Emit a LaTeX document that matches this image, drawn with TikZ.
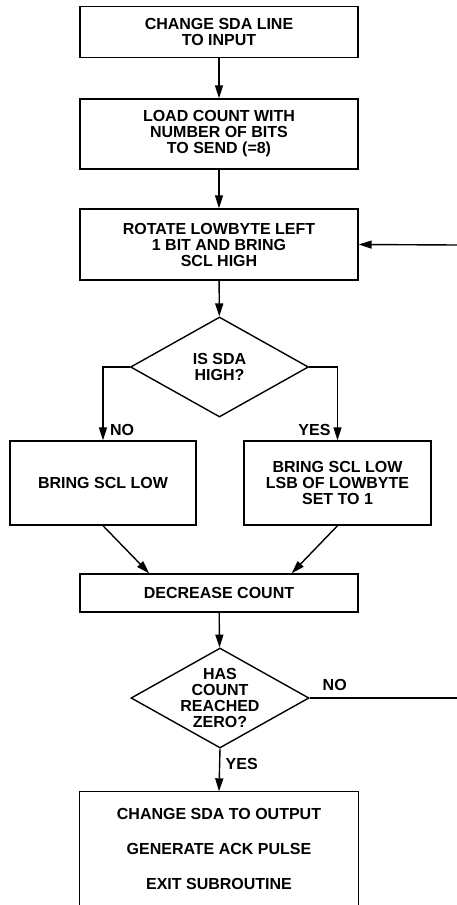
\documentclass[tikz,border=0pt]{standalone}
\usepackage{fontspec}
\setmainfont{Liberation Sans}
\usetikzlibrary{shapes.geometric,arrows.meta,calc}
\begin{document}
\begin{tikzpicture}[x=1pt,y=-1pt,line width=1.4pt,
	every node/.style={font=\bfseries\fontsize{16}{16}\selectfont},
	box/.style={draw,rectangle,align=center,minimum width=278pt,inner sep=0pt},
	dia/.style={draw,diamond,align=center,aspect=1.78,minimum width=178pt,minimum height=100pt,inner sep=-6pt},
	arr/.style={-{Triangle[length=13pt,width=8pt]}}]
	\useasboundingbox (0,0) rectangle (457,905);
	\node[box, minimum height=51pt] (chg) at (219, 32) {CHANGE SDA LINE\\TO INPUT};
	\node[box, minimum height=70pt] (load) at (219, 134) {LOAD COUNT WITH\\NUMBER OF BITS\\TO SEND (=8)};
	\node[box, minimum height=71pt] (rot) at (219, 244.5) {ROTATE LOWBYTE LEFT\\1 BIT AND BRING\\SCL HIGH};
	\node[dia] (sda) at (219.5, 367) {IS SDA\\HIGH?};
	\node[box, minimum width=186pt, minimum height=84pt] (low) at (103, 483) {BRING SCL LOW};
	\node[box, minimum width=187pt, minimum height=84pt] (lsb) at (337.5, 483) {BRING SCL LOW\\LSB OF LOWBYTE\\SET TO 1};
	\node[box, minimum height=38pt] (dec) at (219, 593) {DECREASE COUNT};
	\node[dia] (zero) at (220, 698) {HAS\\COUNT\\REACHED\\ZERO?};
	\node[minimum width=278pt, minimum height=113pt, align=center] (done) at (219, 848.5) {CHANGE SDA TO OUTPUT\\[19pt]GENERATE ACK PULSE\\[19pt]EXIT SUBROUTINE};
	\coordinate (back) at (457, 245);
	\coordinate (loop) at (457, 698);
	\draw (done.south west) -- (done.north west) -- (done.north east) -- (done.south east);
	\draw[arr] (chg) -- (load);
	\draw[arr] (load) -- (rot);
	\draw[arr] (back) -- (rot.east);
	\draw[arr] (rot) -- (sda);
	\draw[arr] (sda.west) -| (low.north) node [pos=0.93, right=3pt] {NO};
	\draw[arr] (sda.east) -| (lsb.north) node [pos=0.93, left=3pt] {YES};
	\draw[arr] (low.south) -- ($(dec.north west)!0.25!(dec.north east)$);
	\draw[arr] (lsb.south) -- ($(dec.north west)!0.76!(dec.north east)$);
	\draw[arr] (dec) -- (zero);
	\draw (zero.east) -- (loop) node [pos=0.17, above=3pt] {NO};
	\draw[arr] (zero.south) -- (done.north) node [pos=0.35, right=2pt] {YES};
\end{tikzpicture}
\end{document}
